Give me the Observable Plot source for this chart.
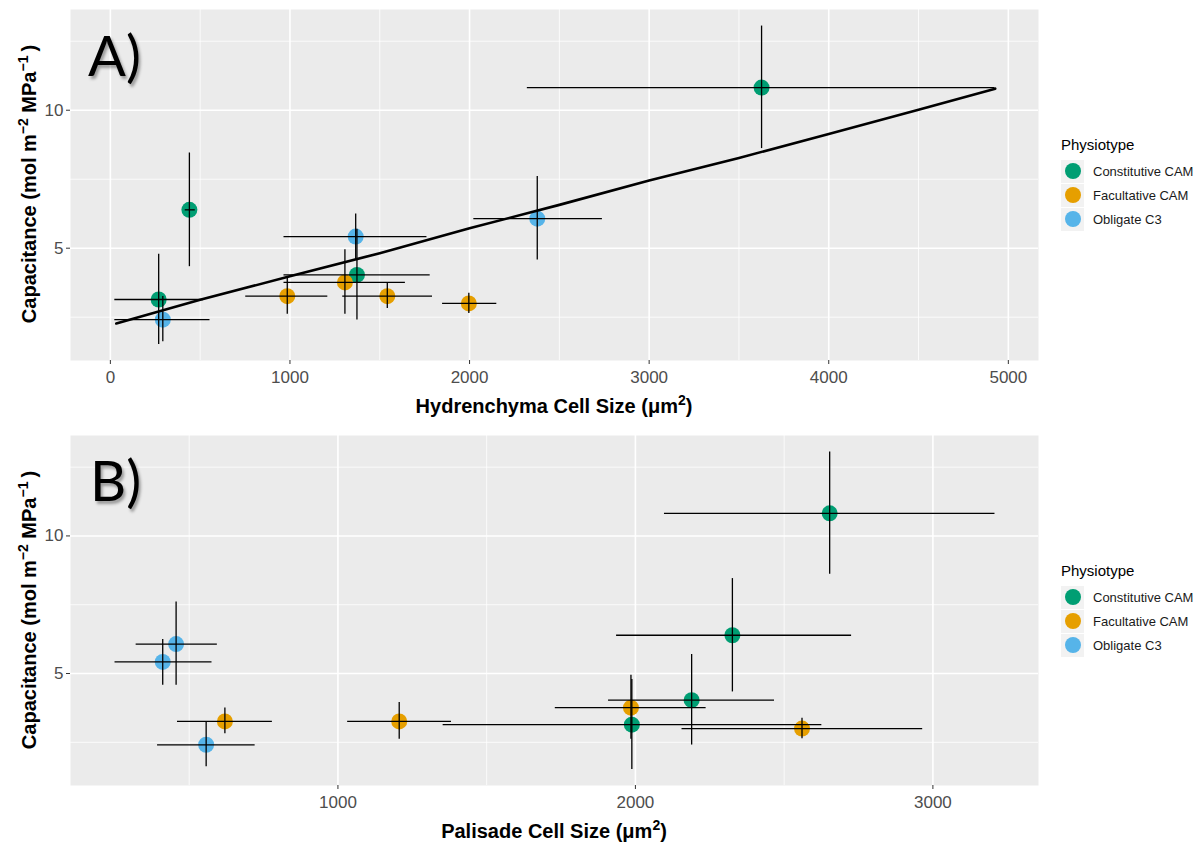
<!DOCTYPE html>
<html><head><meta charset="utf-8">
<script src="https://cdn.jsdelivr.net/npm/d3@7"></script>
<script src="https://cdn.jsdelivr.net/npm/@observablehq/plot@0.6"></script>
<style>
body{margin:0;background:#fff;font-family:"Liberation Sans",Arial,sans-serif;}
#wrap{position:relative;width:1198px;height:845px;overflow:hidden;background:#fff}
.panel{position:absolute;left:0}
.xt{position:absolute;font-weight:bold;font-size:20px;color:#000;white-space:nowrap;transform:translate(-50%,-50%);line-height:1}
.yt{position:absolute;font-weight:bold;font-size:20px;color:#000;white-space:nowrap;transform:translate(-50%,-50%) rotate(-90deg);line-height:1}
sup{font-size:70%;vertical-align:0.55em;line-height:0}
.lab{position:absolute;font-family:Lato,"Open Sans",sans-serif;font-size:56px;line-height:1;color:#000;text-shadow:2px 3px 3px rgba(0,0,0,.35)}
.leg{position:absolute;left:1061px;font-family:"Liberation Sans",Arial,sans-serif}
.leg .t{font-size:15px;color:#000;height:22px;line-height:16px}
.leg .row{display:flex;align-items:center;height:24px}
.leg .key{width:23px;height:23px;background:#F2F2F2;display:flex;align-items:center;justify-content:center;margin-right:9px}
.leg .key span{width:16px;height:16px;border-radius:50%;display:block}
.leg .lt{font-size:13px;color:#1a1a1a}
</style>
</head><body>
<div id="wrap"></div>
<script>
// ---- data ----
const categories = ["Constitutive CAM", "Facultative CAM", "Obligate C3"];
const colors = ["#009E73", "#E69F00", "#56B4E9"];
const physiotype = ["Constitutive CAM","Constitutive CAM","Constitutive CAM","Constitutive CAM",
                    "Facultative CAM","Facultative CAM","Facultative CAM","Facultative CAM",
                    "Obligate C3","Obligate C3","Obligate C3"];
const capacitance = [3.14, 6.39, 4.03, 10.82, 3.26, 3.26, 3.76, 3.00, 2.41, 5.42, 6.07];
const capLow      = [1.51, 4.33, 2.40, 8.61, 2.61, 2.81, 2.61, 2.63, 1.61, 4.57, 4.57];
const capHigh     = [4.78, 8.45, 5.69, 13.05, 3.95, 3.75, 4.94, 3.37, 3.25, 6.24, 7.60];
const hydrenchyma = [269, 440, 1373, 3626, 985, 1542, 1306, 1996, 292, 1366, 2377];
const hydLow      = [22, 414, 964, 2319, 751, 1291, 964, 1847, 22, 964, 2021];
const hydHigh     = [516, 470, 1778, 4923, 1208, 1791, 1640, 2149, 552, 1760, 2737];
const palisade    = [1988, 2326, 2189, 2653, 1206, 620, 1985, 2560, 557, 411, 456];
const palLow      = [1352, 1935, 1908, 2096, 1031, 459, 1729, 2155, 392, 249, 320];
const palHigh     = [2625, 2725, 2466, 3207, 1380, 778, 2236, 2964, 720, 575, 593];
const fitX = [33, 500, 1000, 1500, 2000, 2500, 3000, 3500, 4000, 4500, 4927];
const fitY = [2.27, 3.13, 3.98, 4.82, 5.72, 6.57, 7.45, 8.27, 9.14, 10.02, 10.78];
const yMajor = [5, 10];
const yMinor = [2.5, 7.5, 12.5];
const hydMajor = [0, 1000, 2000, 3000, 4000, 5000];
const hydMinor = [500, 1500, 2500, 3500, 4500];
const palMajor = [1000, 2000, 3000];
const palMinor = [500, 1500, 2500];

function makePanel(o) {
  const data = physiotype.map((p, i) => ({p, x: o.xv[i], xlo: o.xlo[i], xhi: o.xhi[i],
    y: capacitance[i], ylo: capLow[i], yhi: capHigh[i]}));
  const marks = [
    Plot.frame({fill: "#EBEBEB", stroke: null}),
    Plot.ruleX(o.minor, {stroke: "#fff", strokeWidth: 0.8}),
    Plot.ruleX(o.major, {stroke: "#fff", strokeWidth: 1.6}),
    Plot.ruleY(yMinor, {stroke: "#fff", strokeWidth: 0.8}),
    Plot.ruleY(yMajor, {stroke: "#fff", strokeWidth: 1.6}),
    Plot.dot(data, {x: "x", y: "y", fill: "p", r: 8}),
    Plot.link(data, {x1: "xlo", x2: "xhi", y1: "y", y2: "y", stroke: "#000", strokeWidth: 1.3}),
    Plot.ruleX(data, {x: "x", y1: "ylo", y2: "yhi", stroke: "#000", strokeWidth: 1.3}),
  ];
  if (o.fit) marks.push(Plot.line(fitX.map((x, i) => ({x, y: fitY[i]})), {x: "x", y: "y", stroke: "#000", strokeWidth: 2.6}));
  marks.push(
    Plot.axisX({ticks: o.major, tickFormat: d => String(d), tickSize: 4, tickPadding: 6, fontSize: 17, fill: "#4D4D4D", stroke: "#333", label: null}),
    Plot.axisY({ticks: yMajor, tickFormat: d => String(d), tickSize: 4, tickPadding: 3, fontSize: 17, fill: "#4D4D4D", stroke: "#333", label: null})
  );
  return Plot.plot({
    width: 1198, height: o.height,
    marginLeft: 70, marginRight: 160, marginTop: o.top, marginBottom: 60,
    x: {domain: o.domain},
    y: {domain: [0.93, 13.65]},
    color: {domain: categories, range: colors},
    style: {fontFamily: "'Liberation Sans', Arial, sans-serif", fontSize: "17px", background: "transparent", overflow: "visible"},
    marks
  });
}

const wrap = document.getElementById("wrap");
function add(el, top) { el.classList.add("panel"); el.style.top = top + "px"; wrap.appendChild(el); }

add(makePanel({xv: hydrenchyma, xlo: hydLow, xhi: hydHigh, domain: [-222, 5168],
  major: hydMajor, minor: hydMinor, fit: true, height: 420, top: 9}), 0);
add(makePanel({xv: palisade, xlo: palLow, xhi: palHigh, domain: [101, 3355],
  major: palMajor, minor: palMinor, fit: false, height: 425, top: 15}), 420);

function html(cls, content, left, top) {
  const d = document.createElement("div");
  d.className = cls; d.innerHTML = content;
  d.style.left = left + "px"; d.style.top = top + "px";
  wrap.appendChild(d); return d;
}
const yTitle = "Capacitance (mol m<sup>\u22122</sup> MPa<sup>\u22121</sup>\u2009)";
html("xt", "Hydrenchyma Cell Size (\u03bcm<sup>2</sup>)", 554, 406);
html("xt", "Palisade Cell Size (\u03bcm<sup>2</sup>)", 554, 831);
html("yt", yTitle, 29, 184);
html("yt", yTitle, 29, 610);
html("lab", "A)", 88, 27);
html("lab", "B)", 90, 452);

function legend(top) {
  const d = html("leg", "", 1061, top);
  let s = '<div class="t">Physiotype</div>';
  categories.forEach((c, i) => {
    s += `<div class="row"><div class="key"><span style="background:${colors[i]}"></span></div><div class="lt">${c}</div></div>`;
  });
  d.innerHTML = s;
}
legend(137);
legend(563);
</script>
</body></html>
